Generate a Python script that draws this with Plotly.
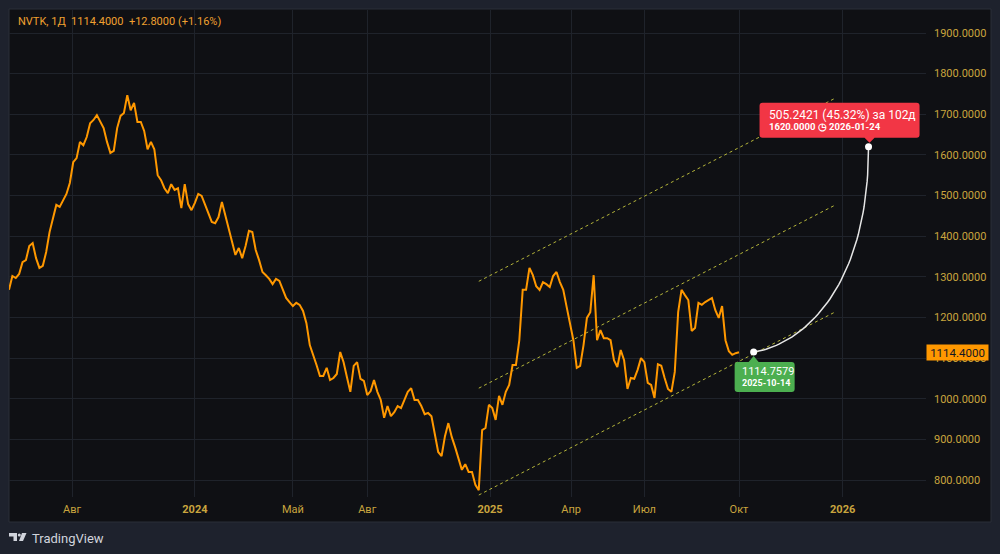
import numpy as np
import pandas as pd
import plotly.graph_objects as go

# ---------------- data ----------------
ticker = "NVTK"
interval = "1Д"
last_price = 1114.4
last_change = 12.8
last_change_pct = 1.16

close = [
    1268, 1302, 1297, 1307, 1336, 1341, 1376, 1383, 1346, 1322,
    1327, 1361, 1410, 1447, 1477, 1472, 1489, 1504, 1531, 1582,
    1592, 1632, 1624, 1644, 1678, 1686, 1698, 1681, 1666, 1632,
    1605, 1610, 1666, 1696, 1703, 1747, 1710, 1728, 1681, 1681,
    1659, 1614, 1632, 1614, 1550, 1538, 1518, 1506, 1528, 1514,
    1518, 1469, 1528, 1479, 1464, 1482, 1504, 1499, 1477, 1457,
    1435, 1432, 1447, 1484, 1452, 1420, 1383, 1354, 1371, 1346,
    1376, 1413, 1410, 1366, 1341, 1312, 1304, 1295, 1282, 1295,
    1290, 1270, 1248, 1238, 1228, 1236, 1231, 1216, 1186, 1132,
    1110, 1083, 1056, 1056, 1076, 1046, 1051, 1061, 1115, 1090,
    1053, 1017, 1081, 1090, 1049, 1044, 1009, 1019, 1046, 1017,
    997, 953, 982, 957, 967, 982, 977, 997, 1017, 1026,
    997, 997, 982, 962, 965, 957, 911, 869, 859, 908,
    940, 906, 881, 854, 825, 839, 820, 820, 788, 775,
    923, 928, 985, 977, 948, 1007, 985, 1017, 1034, 1083,
    1083, 1144, 1268, 1268, 1322, 1304, 1277, 1268, 1287, 1282,
    1275, 1302, 1312, 1287, 1268, 1226, 1189, 1144, 1076, 1081,
    1132, 1199, 1213, 1304, 1144, 1169, 1149, 1149, 1144, 1095,
    1078, 1120, 1095, 1024, 1051, 1049, 1071, 1100, 1090, 1039,
    1034, 1002, 1085, 1081, 1051, 1024, 1017, 1066, 1213, 1268,
    1255, 1243, 1167, 1174, 1236, 1231, 1238, 1243, 1248, 1218,
    1199, 1228, 1144, 1117, 1108, 1112, 1114.4,
]

# parallel channel (drawn by user)
channel_dates = ["2024-12-18", "2025-12-25"]
channel_low = [763, 1213]
channel_mid = [1026, 1476]
channel_high = [1289, 1739]

# projection
proj_start_date, proj_start_price = "2025-10-14", 1114.7579
proj_end_date, proj_end_price = "2026-01-24", 1620.0
proj_change, proj_change_pct, proj_days = 505.2421, 45.32, 102

tick_dates = ["2023-08-01", "2024-01-01", "2024-05-01", "2024-08-01", "2025-01-01",
              "2025-04-01", "2025-07-01", "2025-10-01", "2026-01-01"]
tick_text = ["Авг", "<b>2024</b>", "Май", "Авг", "<b>2025</b>", "Апр", "Июл", "Окт", "<b>2026</b>"]
price_ticks = [800, 900, 1000, 1100, 1200, 1300, 1400, 1500, 1600, 1700, 1800, 1900]

# ---------------- time scale (trading bars; weekend sessions from March 2025) ----------------
all_days = pd.date_range("2023-05-01", "2025-07-31", freq="D")
weekend_sessions = pd.date_range("2025-03-01", "2025-03-23", freq="D")
no_trade = [d for d in all_days if d.weekday() >= 5 and d not in weekend_sessions]
no_trade_set = set(no_trade)
bars = [d for d in pd.date_range("2023-05-15", "2025-10-01", freq="D") if d not in no_trade_set]
dates = bars[::3][:len(close)]
breaks = [d.strftime("%Y-%m-%d") for d in no_trade]

# ---------------- style ----------------
FONT = "Roboto"
OUTER = "#1e222d"
PANE = "#0f1014"
GRID = "#1f232b"
AXIS_TXT = "#c9a53e"
ORANGE = "#ff9800"
CHAN = "#b5b53a"

W, H = 1000, 554
L, R, T, B = 9, 74, 10, 57
PW, PH = W - L - R, H - T - B


def px_x(px):
    return (px - L) / PW


def px_y(py):
    return (H - B - py) / PH


fig = go.Figure()

for chan in (channel_high, channel_mid, channel_low):
    fig.add_trace(go.Scatter(x=channel_dates, y=chan, mode="lines",
                             line=dict(color=CHAN, width=1, dash="dot"), hoverinfo="skip"))

fig.add_trace(go.Scatter(x=dates, y=close, mode="lines",
                         line=dict(color=ORANGE, width=2)))

# projection curve (cubic bezier between the two anchor points)
t0 = pd.Timestamp(proj_start_date).value / 1e6
t3 = pd.Timestamp(proj_end_date).value / 1e6
p0, p3 = proj_start_price, proj_end_price
c1 = (t0 + 0.41 * (t3 - t0), p0 + 0.035 * (p3 - p0))
c2 = (t3, p0 + 0.30 * (p3 - p0))
s = np.linspace(0, 1, 60)
bx = (1 - s) ** 3 * t0 + 3 * (1 - s) ** 2 * s * c1[0] + 3 * (1 - s) * s ** 2 * c2[0] + s ** 3 * t3
by = (1 - s) ** 3 * p0 + 3 * (1 - s) ** 2 * s * c1[1] + 3 * (1 - s) * s ** 2 * c2[1] + s ** 3 * p3
fig.add_trace(go.Scatter(x=pd.to_datetime(bx, unit="ms"), y=by, mode="lines",
                         line=dict(color="#e6e6e6", width=1.5), hoverinfo="skip"))
fig.add_trace(go.Scatter(x=[proj_start_date, proj_end_date], y=[p0, p3], mode="markers",
                         marker=dict(color="white", size=7), hoverinfo="skip"))

shapes = [
    # pane background + border
    dict(type="rect", xref="paper", yref="paper", x0=px_x(9), x1=px_x(991), y0=px_y(522), y1=px_y(9),
         fillcolor=PANE, line=dict(color="#2a2e39", width=1), layer="below"),
    # red target label
    dict(type="path", xref="x", yref="y", xsizemode="pixel", ysizemode="pixel",
         xanchor=proj_end_date, yanchor=proj_end_price,
         path="M -106,9 H -4 L 1,4 L 6,9 H 48 Q 51,9 51,12 V 41 Q 51,44 48,44 H -106 Q -109,44 -109,41 V 12 Q -109,9 -106,9 Z",
         fillcolor="#f23645", line=dict(width=0)),
    # green start label
    dict(type="path", xref="x", yref="y", xsizemode="pixel", ysizemode="pixel",
         xanchor=proj_start_date, yanchor=proj_start_price,
         path="M -16,-10 H -5 L 0,-4 L 5,-10 H 38 Q 41,-10 41,-13 V -37 Q 41,-40 38,-40 H -16 Q -19,-40 -19,-37 V -13 Q -19,-10 -16,-10 Z",
         fillcolor="#4caf50", line=dict(width=0)),
    # TradingView logo
    dict(type="path", xref="paper", yref="paper",
         path=f"M {px_x(9)},{px_y(533)} L {px_x(17)},{px_y(533)} L {px_x(17)},{px_y(541)} L {px_x(13.5)},{px_y(541)} L {px_x(13.5)},{px_y(536.5)} L {px_x(9)},{px_y(536.5)} Z",
         fillcolor="#d1d4dc", line=dict(width=0)),
    dict(type="circle", xref="paper", yref="paper", x0=px_x(17.8), x1=px_x(20.8), y0=px_y(536.5), y1=px_y(533.5),
         fillcolor="#d1d4dc", line=dict(width=0)),
    dict(type="path", xref="paper", yref="paper",
         path=f"M {px_x(22)},{px_y(533)} L {px_x(26.5)},{px_y(533)} L {px_x(23)},{px_y(541)} L {px_x(19)},{px_y(541)} Z",
         fillcolor="#d1d4dc", line=dict(width=0)),
]

annotations = [
    dict(xref="paper", yref="paper", x=0, y=1, xanchor="left", yanchor="middle", xshift=7, yshift=-11,
         text=f"{ticker}, {interval}&nbsp;&nbsp;{last_price:.4f}&nbsp;&nbsp;+{last_change:.4f} (+{last_change_pct:.2f}%)",
         showarrow=False, font=dict(family=FONT, size=11, color="#f0a030")),
    dict(xref="paper", yref="y", x=1, y=last_price, xanchor="left", yanchor="middle",
         text=f"{last_price:.4f}", showarrow=False, bgcolor=ORANGE, width=57, height=11, borderpad=2,
         font=dict(family=FONT, size=11.5, color="#131722")),
    dict(xref="x", yref="y", x=proj_end_date, y=proj_end_price, xanchor="left", yanchor="middle",
         xshift=-102, yshift=32, showarrow=False,
         text=f"{proj_change:.4f} ({proj_change_pct:.2f}%) за {proj_days}д",
         font=dict(family=FONT, size=12, color="white")),
    dict(xref="x", yref="y", x=proj_end_date, y=proj_end_price, xanchor="left", yanchor="middle",
         xshift=-102, yshift=20, showarrow=False,
         text=f"<b>{proj_end_price:.4f} ◷ {proj_end_date}</b>",
         font=dict(family=FONT, size=9.5, color="white")),
    dict(xref="x", yref="y", x=proj_start_date, y=proj_start_price, xanchor="left", yanchor="middle",
         xshift=-14, yshift=-19, showarrow=False, text=f"{proj_start_price:.4f}",
         font=dict(family=FONT, size=11, color="white")),
    dict(xref="x", yref="y", x=proj_start_date, y=proj_start_price, xanchor="left", yanchor="middle",
         xshift=-14, yshift=-31, showarrow=False, text=f"<b>{proj_start_date}</b>",
         font=dict(family=FONT, size=9, color="white")),
    dict(xref="paper", yref="paper", x=px_x(30), y=px_y(538), xanchor="left", yanchor="middle",
         showarrow=False, text="TradingView", font=dict(family=FONT, size=13, color="#d1d4dc")),
]

fig.update_layout(
    width=W, height=H,
    margin=dict(l=L, r=R, t=T, b=B, pad=0),
    paper_bgcolor=OUTER,
    plot_bgcolor="rgba(0,0,0,0)",
    showlegend=False,
    shapes=shapes,
    annotations=annotations,
    font=dict(family=FONT, color=AXIS_TXT, size=11),
    xaxis=dict(
        type="date", range=["2023-05-15", "2026-03-16"],
        rangebreaks=[dict(values=breaks)],
        tickmode="array", tickvals=tick_dates, ticktext=tick_text,
        showgrid=True, gridcolor=GRID, gridwidth=1, zeroline=False, showline=False,
        ticks="", ticklabelstandoff=4, automargin=False,
        tickfont=dict(family=FONT, size=11, color=AXIS_TXT),
    ),
    yaxis=dict(
        side="right", range=[758.2, 1956.6],
        tickmode="array", tickvals=price_ticks, tickformat=".4f",
        showgrid=True, gridcolor=GRID, gridwidth=1, zeroline=False, showline=False,
        ticks="", ticklabelstandoff=7, automargin=False,
        tickfont=dict(family=FONT, size=11, color=AXIS_TXT),
    ),
)

fig.write_html("out.html", config={"displayModeBar": False},
               post_script="document.body.style.margin='0';document.body.style.background='#1e222d';")
